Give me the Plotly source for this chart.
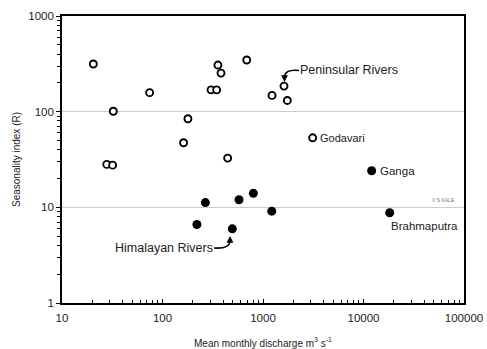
import plotly.graph_objects as go
import math

# Peninsular rivers (open circles)
pen_q = [20.5, 32.4, 27.9, 31.9, 74.5, 179, 162, 304, 346, 356, 382, 445, 689, 1618, 1230, 1746, 3120]
pen_r = [315, 101, 28.1, 27.6, 158, 84.3, 47.3, 169, 169, 307, 253, 32.7, 347, 185, 148, 131, 53.3]

# Himalayan rivers (filled circles)
him_q = [220, 267, 495, 577, 802, 1222, 12050, 18240]
him_r = [6.62, 11.2, 5.96, 12.0, 14.0, 9.12, 24.1, 8.77]

x_ticks = [10, 100, 1000, 10000, 100000]
y_ticks = [1, 10, 100, 1000]

W, H = 487, 349
L, R, T, B = 62, 23, 16, 46
PW, PH = W - L - R, H - T - B

def px2paper(px, py):
    return (px - L) / PW, (H - B - py) / PH

fig = go.Figure()
fig.add_trace(go.Scatter(x=pen_q, y=pen_r, mode="markers", name="Peninsular",
                         marker=dict(size=7, color="white", line=dict(color="black", width=1.9))))
fig.add_trace(go.Scatter(x=him_q, y=him_r, mode="markers", name="Himalayan",
                         marker=dict(size=9, color="black", line=dict(color="black", width=0))))

font_main = "Liberation Sans, Arial, sans-serif"
txt_col = "#222"

minor_x = [m * 10 ** e for e in range(1, 5) for m in range(2, 10)]
minor_y = [m * 10 ** e for e in range(0, 3) for m in range(2, 10)]

fig.update_xaxes(type="log", range=[1, 5], tickvals=x_ticks, ticktext=[str(v) for v in x_ticks],
                 automargin=False, ticklabelstandoff=3,
                 showgrid=False, zeroline=False, showline=True, linecolor="black", linewidth=1.6,
                 mirror=True, ticks="inside", ticklen=4, tickwidth=1.2, tickcolor="black",
                 minor=dict(tickvals=minor_x, ticks="inside", ticklen=3, tickwidth=1, tickcolor="black", showgrid=False),
                 tickfont=dict(family=font_main, size=11.5, color=txt_col),
                 title=dict(text="Mean monthly discharge m<sup>3</sup> s<sup>-1</sup>",
                            font=dict(family=font_main, size=10, color=txt_col), standoff=17))
fig.update_yaxes(type="log", range=[0, 3], tickvals=y_ticks, ticktext=[str(v) for v in y_ticks],
                 automargin=False,
                 showgrid=True, gridcolor="#cccccc", gridwidth=1, zeroline=False,
                 showline=True, linecolor="black", linewidth=1.6,
                 mirror=True, ticks="outside", ticklen=4, tickwidth=1.2, tickcolor="black",
                 minor=dict(tickvals=minor_y, ticks="outside", ticklen=3, tickwidth=1, tickcolor="black", showgrid=False),
                 tickfont=dict(family=font_main, size=11.5, color=txt_col),
                 title=dict(text="Seasonality index (R)", font=dict(family=font_main, size=10, color=txt_col),
                            standoff=6))

annots = []
annots.append(dict(x=math.log10(pen_q[16]), y=math.log10(pen_r[16]), xref="x", yref="y", text="Godavari",
                   showarrow=False, xanchor="left", xshift=5, font=dict(family=font_main, size=11, color=txt_col)))
annots.append(dict(x=math.log10(him_q[6]), y=math.log10(him_r[6]), xref="x", yref="y", text="Ganga",
                   showarrow=False, xanchor="left", xshift=6, font=dict(family=font_main, size=11.5, color=txt_col)))
annots.append(dict(x=math.log10(him_q[7]), y=math.log10(him_r[7]), xref="x", yref="y", text="Brahmaputra",
                   showarrow=False, xanchor="left", xshift=-1, yshift=-13,
                   font=dict(family=font_main, size=11.5, color=txt_col)))
annots.append(dict(x=math.log10(1618), y=math.log10(185), xref="x", yref="y", text="Peninsular Rivers",
                   showarrow=False, xanchor="left", xshift=14, yshift=16,
                   font=dict(family=font_main, size=12.5, color=txt_col)))
annots.append(dict(x=math.log10(495), y=math.log10(5.96), xref="x", yref="y", text="Himalayan Rivers",
                   showarrow=False, xanchor="right", xshift=-17, yshift=-19,
                   font=dict(family=font_main, size=12.5, color=txt_col)))
annots.append(dict(x=1.0, y=1, xref="paper", yref="y", text="V S KALE", showarrow=False,
                   xanchor="right", yanchor="bottom", xshift=-7, yshift=2,
                   font=dict(family=font_main, size=5, color="#777")))

def qpath(pts):
    p0 = px2paper(*pts[0]); c = px2paper(*pts[1]); p1 = px2paper(*pts[2])
    return f"M {p0[0]},{p0[1]} Q {c[0]},{c[1]} {p1[0]},{p1[1]}"

def tri(pts):
    ps = [px2paper(*p) for p in pts]
    return "M " + " L ".join(f"{a},{b}" for a, b in ps) + " Z"

shapes = [
    dict(type="path", xref="paper", yref="paper", path=qpath([(299, 70.5), (286, 69), (284.5, 76)]),
         line=dict(color="black", width=1.6)),
    dict(type="path", xref="paper", yref="paper", path=tri([(281.5, 75.5), (287.5, 75.5), (284.5, 81.5)]),
         line=dict(color="black", width=0.5), fillcolor="black"),
    dict(type="path", xref="paper", yref="paper", path=qpath([(214, 248), (229, 249), (230, 242)]),
         line=dict(color="black", width=1.6)),
    dict(type="path", xref="paper", yref="paper", path=tri([(227, 242.5), (233, 242.5), (230, 236.5)]),
         line=dict(color="black", width=0.5), fillcolor="black"),
]

fig.update_layout(width=W, height=H, margin=dict(l=L, r=R, t=T, b=B, pad=0),
                  paper_bgcolor="white", plot_bgcolor="white", showlegend=False,
                  annotations=annots, shapes=shapes)

fig.write_html("out.html", config={"displayModeBar": False},
               post_script="document.body.style.margin='0px';document.body.style.overflow='hidden';")
